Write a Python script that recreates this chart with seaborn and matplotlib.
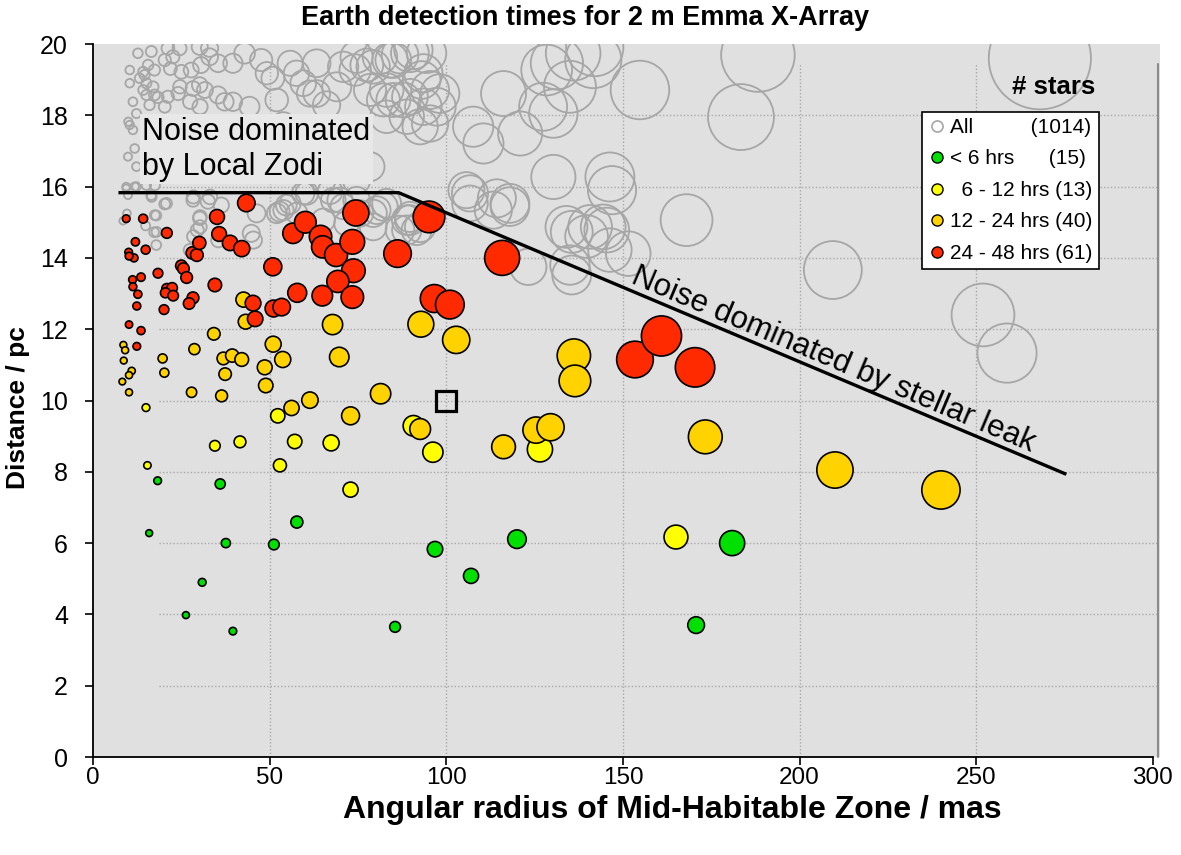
import numpy as np
import pandas as pd
import matplotlib
matplotlib.use("Agg")
import matplotlib.pyplot as plt
from matplotlib.lines import Line2D
import seaborn as sns

# ---------------- data ----------------
green_x = [15.9, 18.3, 36.0, 26.3, 30.9, 37.6, 39.6, 51.2, 57.7, 85.5, 96.8, 107.0, 120.0, 170.7, 180.9]
green_y = [6.28, 7.75, 7.66, 3.98, 4.90, 6.00, 3.53, 5.96, 6.59, 3.65, 5.83, 5.08, 6.11, 3.70, 6.00]

yellow_x = [15.0, 15.4, 34.5, 41.6, 52.3, 52.9, 57.1, 67.4, 72.9, 90.7, 96.2, 126.5, 165.0]
yellow_y = [9.80, 8.18, 8.73, 8.84, 9.57, 8.18, 8.85, 8.81, 7.50, 9.29, 8.55, 8.63, 6.17]

orange_x = [8.6, 9.1, 8.7, 10.95, 10.2, 8.3, 10.2, 19.7, 20.2, 28.7, 27.9, 34.2, 36.9, 39.4, 42.1,
            37.4, 36.4, 42.6, 43.2, 48.6, 48.9, 51.0, 53.7, 56.2, 61.4, 67.8, 69.7, 72.9, 81.4,
            92.8, 102.8, 92.6, 116.2, 125.4, 129.5, 136.1, 136.4, 173.3, 210.0, 240.0]
orange_y = [11.56, 11.41, 11.12, 10.83, 10.71, 10.53, 10.23, 11.18, 10.78, 11.44, 10.23, 11.87, 11.18,
            11.26, 11.15, 10.74, 10.13, 12.83, 12.21, 10.93, 10.42, 11.58, 11.15, 9.79, 10.01, 12.13,
            11.22, 9.57, 10.19, 12.14, 11.70, 9.20, 8.70, 9.17, 9.25, 11.26, 10.55, 8.98, 8.05, 7.49]

red_x = [9.4, 14.2, 20.9, 12.0, 14.9, 10.1, 11.6, 10.2, 18.4, 25.0, 25.6, 26.5, 13.6, 11.2, 11.3,
         12.7, 12.4, 20.9, 22.4, 20.5, 22.7, 20.1, 10.2, 13.6, 12.4, 28.3, 27.2, 28.1, 29.4, 30.1,
         34.5, 35.1, 35.7, 38.8, 42.1, 43.4, 50.9, 45.3, 45.9, 51.1, 53.4, 56.6, 60.1, 64.4, 65.0,
         68.8, 73.4, 74.4, 73.7, 69.3, 64.9, 73.4, 57.8, 86.2, 95.1, 96.6, 101.0, 115.8, 153.4,
         160.9, 170.4]
red_y = [15.10, 15.10, 14.70, 14.45, 14.23, 14.16, 14.00, 14.05, 13.57, 13.78, 13.70, 13.45, 13.46,
         13.39, 13.19, 12.98, 12.65, 13.14, 13.16, 13.02, 12.94, 12.55, 12.13, 11.96, 11.52, 12.88,
         12.72, 14.14, 14.08, 14.42, 13.24, 15.15, 14.67, 14.42, 14.26, 15.54, 13.75, 12.73, 12.29,
         12.58, 12.62, 14.69, 15.00, 14.60, 14.31, 14.08, 14.45, 15.26, 13.64, 13.34, 12.94, 12.90,
         13.02, 14.12, 15.15, 12.86, 12.69, 14.00, 11.15, 11.81, 10.93]

gray_x = [12.7, 16.5, 21.2, 24.5, 22.6, 20.3, 21.9, 10.4, 14.2, 17.4, 15.6, 14.6, 13.2, 25.0, 27.8,
          30.6, 33.0, 33.0, 30.2, 35.4, 39.6, 42.9, 47.6, 50.9, 10.4, 15.1, 17.0, 14.2, 17.4, 18.4,
          21.2, 24.1, 15.1, 11.3, 12.3, 16.0, 20.3, 30.2, 28.3, 35.4, 39.6, 44.3, 37.3, 10.4, 11.3,
          11.8, 9.9, 12.3, 9.4, 12.3, 15.1, 10.0, 24.6, 27.5, 30.3, 31.7, 16.6, 20.8, 17.5, 18.0,
          28.4, 33.1, 30.3, 30.3, 28.4, 35.5, 46.3, 45.4, 36.9, 42.6, 46.3, 50.1, 53.9, 55.8, 52.0,
          49.2, 55.8, 63.3, 59.5, 63.3, 69.0, 70.8, 74.6, 79.3, 84.1, 89.7, 93.5, 82.2, 87.8, 93.5,
          92.6, 97.3, 88.8, 95.4, 78.4, 74.6, 65.2, 59.5, 55.8, 52.0, 57.7, 65.2, 70.8, 75.6, 89.7,
          79.3, 57.6, 61.4, 66.1, 78.4, 83.1, 83.1, 95.4, 98.2, 85.0, 89.7, 93.0, 77.5, 74.2, 81.2,
          85.0, 86.9, 90.7, 94.4, 116.2, 107.6, 110.5, 120.9, 127.4, 128.4, 131.3, 130.3, 135.0,
          135.9, 141.6, 130.3, 146.3, 106.7, 114.3, 118.0, 134.0, 140.7, 144.4, 68.0, 74.6, 80.3,
          88.8, 82.2, 89.7, 86.9, 91.6, 106.7, 113.3, 118.0, 123.2, 135.5, 139.7, 145.4, 151.5,
          135.0, 135.5, 168.0, 268.0, 188.2, 183.4, 154.8, 142.0, 209.4, 251.9, 258.7, 146.9, 146.3,
          9.4, 11.8, 17.5, 9.9, 16.5, 20.3, 28.3, 32.5, 36.3, 17.9, 9.6, 8.5, 14.9, 17.3, 17.9,
          30.2, 29.5, 27.4, 44.8, 52.8, 54.7, 53.9, 60.5, 67.1, 69.9, 79.3, 83.1, 88.8, 92.6,
          105.7, 71.8]
gray_y = [19.74, 19.79, 19.88, 19.88, 19.64, 19.55, 19.31, 19.27, 19.22, 19.27, 19.41, 19.13, 19.04,
          19.22, 19.27, 19.41, 19.64, 19.88, 19.92, 19.46, 19.46, 19.74, 19.55, 19.04, 18.90, 18.90,
          18.80, 18.71, 18.57, 18.50, 18.52, 18.61, 18.57, 18.38, 18.05, 18.29, 18.24, 18.85, 18.75,
          18.57, 18.38, 18.24, 18.38, 17.73, 17.59, 17.07, 16.84, 16.56, 16.00, 16.00, 16.04, 17.82,
          18.80, 18.38, 18.24, 18.71, 15.71, 15.53, 15.20, 14.73, 15.71, 15.71, 15.15, 14.87, 14.60,
          14.50, 15.25, 14.50, 17.40, 17.31, 16.84, 17.31, 17.77, 17.49, 18.43, 19.18, 19.46, 19.46,
          18.90, 18.61, 18.80, 19.36, 19.64, 19.36, 19.55, 19.74, 19.18, 18.43, 18.43, 18.24, 17.68,
          18.24, 17.96, 18.71, 16.56, 16.18, 16.18, 15.81, 15.53, 15.25, 15.25, 15.06, 15.44, 15.25,
          15.06, 14.87, 19.18, 18.61, 18.29, 18.71, 18.71, 17.96, 17.77, 18.61, 18.43, 18.52, 18.99,
          19.41, 19.27, 19.64, 19.55, 19.69, 19.83, 19.74, 18.61, 17.68, 17.21, 17.49, 18.24, 19.27,
          19.46, 18.05, 18.80, 19.74, 19.55, 16.27, 16.27, 15.81, 15.67, 15.53, 14.87, 14.87, 14.87,
          15.62, 15.62, 15.34, 15.06, 15.44, 15.15, 14.78, 14.78, 15.53, 15.34, 15.44, 13.75, 14.73,
          14.60, 14.78, 14.12, 13.80, 13.52, 15.06, 19.60, 19.69, 17.95, 18.71, 19.90, 13.66, 12.40,
          11.33, 15.90, 14.22, 15.95, 16.00, 16.04, 15.76, 15.76, 15.51, 15.62, 15.58, 15.48, 15.19,
          15.25, 15.04, 14.90, 14.72, 14.36, 15.11, 14.78, 14.22, 14.69, 15.30, 15.48, 15.34, 15.81,
          15.86, 15.62, 15.25, 15.53, 14.78, 14.87, 15.90, 14.97]

categories = ["< 6 hrs", "6 - 12 hrs", "12 - 24 hrs", "24 - 48 hrs"]
counts = {"All": 1014, "< 6 hrs": 15, "6 - 12 hrs": 13, "12 - 24 hrs": 40, "24 - 48 hrs": 61}
colors = {"< 6 hrs": "#00e000", "6 - 12 hrs": "#ffff00", "12 - 24 hrs": "#ffd200", "24 - 48 hrs": "#ff2a00"}

# limit line of the noise regimes (x in mas, y in pc)
limit_x = [7.2, 86.5, 275.5]
limit_y = [15.83, 15.83, 7.93]

frames = []
for cat, xs, ys in zip(categories, [green_x, yellow_x, orange_x, red_x], [green_y, yellow_y, orange_y, red_y]):
    frames.append(pd.DataFrame({"x": xs, "y": ys, "cat": cat}))
df = pd.concat(frames, ignore_index=True)
gray = pd.DataFrame({"x": gray_x, "y": gray_y})

# physical habitable zone radius (AU) = angular radius (mas) * distance (pc) / 1000
def marker_area(xs, ys):
    r_au = np.asarray(xs) * np.asarray(ys) / 1000.0
    diam_px = 5.0 + 18.5 * r_au
    return (diam_px * 0.72) ** 2

# ---------------- figure ----------------
sns.set_theme(style="white")
plt.rcParams["font.family"] = ["Liberation Sans", "DejaVu Sans"]
plt.rcParams["text.color"] = "black"
plt.rcParams["axes.labelcolor"] = "black"

fig = plt.figure(figsize=(11.81, 8.55), dpi=100)
ax = fig.add_axes([93 / 1181, 98 / 855, 1067 / 1181, 713 / 855])
ax.set_facecolor("#e0e0e0")
ax.set_xlim(0, 302)
ax.set_ylim(0, 20)

# grid (dotted)
for gx in [50, 100, 150, 200, 250]:
    ax.plot([gx, gx], [0, 19.43], ls=(0, (1, 1.5)), color="#a8a8a8", lw=1.0, zorder=0.5)
for gy in range(2, 20, 2):
    ax.plot([18.7, 301.4], [gy, gy], ls=(0, (1, 1.5)), color="#a8a8a8", lw=1.0, zorder=0.5)
ax.plot([301.4, 301.4], [0, 19.43], color="#8c8c8c", lw=1.5, zorder=0.6, clip_on=False)

# all stars (grey open circles)
sns.scatterplot(data=gray, x="x", y="y", ax=ax, s=marker_area(gray.x, gray.y),
                facecolor="none", edgecolor="#a6a6a6", linewidth=1.3, legend=False, zorder=1)

# detection time categories
sns.scatterplot(data=df, x="x", y="y", hue="cat", hue_order=categories, palette=colors, ax=ax,
                s=marker_area(df.x, df.y), edgecolor="black", linewidth=1.2, alpha=1,
                legend=False, zorder=3)

# noise regime boundary
ax.plot(limit_x, limit_y, color="black", lw=2.4, solid_capstyle="butt", zorder=4)

# reference Earth-Sun at 10 pc
ax.plot([100], [10], marker="s", ms=14, mfc="none", mec="black", mew=2.3, zorder=5)

ax.text(14.0, 17.95, "Noise dominated\nby Local Zodi", fontsize=22, ha="left", va="top",
        linespacing=1.2, zorder=6,
        bbox=dict(facecolor="#e8e8e8", edgecolor="none", pad=2))
ax.text(209.5, 11.15, "Noise dominated by stellar leak", fontsize=22.5, ha="center", va="center",
        rotation=-22.9, rotation_mode="anchor", zorder=6)

ax.text(0.939, 0.94, "# stars", transform=ax.transAxes, fontsize=18.5, fontweight="bold",
        ha="right", va="center")

# legend
handles = [Line2D([], [], ls="", marker="o", ms=8, mfc="white", mec="#a6a6a6", mew=1.2)]
labels = ["All" + " " * 10 + "(%d)" % counts["All"]]
pads = {"< 6 hrs": (0, 6), "6 - 12 hrs": (2, 1), "12 - 24 hrs": (0, 1), "24 - 48 hrs": (0, 1)}
for cat in categories:
    handles.append(Line2D([], [], ls="", marker="o", ms=8, mfc=colors[cat], mec="black", mew=1.0))
    lead, gap = pads[cat]
    labels.append(" " * lead + cat + " " * gap + "(%d)" % counts[cat])
leg = ax.legend(handles, labels, loc="upper left", bbox_to_anchor=(0.777, 0.905),
                frameon=True, fancybox=False, fontsize=15, borderpad=0.3, labelspacing=0.6,
                handlelength=0.8, handletextpad=0.25, borderaxespad=0)
leg.get_frame().set_edgecolor("black")
leg.get_frame().set_linewidth(1.2)
leg.get_frame().set_facecolor("white")
leg.get_frame().set_alpha(1)
leg.set_zorder(10)

# axes styling
for side in ["top", "right"]:
    ax.spines[side].set_visible(False)
for side in ["left", "bottom"]:
    ax.spines[side].set_color("black")
    ax.spines[side].set_linewidth(1.3)
ax.spines["bottom"].set_bounds(0, 300)
ax.set_xticks(np.arange(0, 301, 50))
ax.set_yticks(np.arange(0, 21, 2))
ax.tick_params(axis="x", direction="out", length=6, width=1.2, color="black",
               labelsize=17.5, labelcolor="black", bottom=True, pad=1.5)
ax.tick_params(axis="y", direction="out", length=6, width=1.2, color="black",
               labelsize=18, labelcolor="black", left=True, pad=12)
ax.set_xlabel("Angular radius of Mid-Habitable Zone / mas", fontsize=23, fontweight="bold")
ax.xaxis.set_label_coords((672 - 93) / 1067, (757 - 810) / 713)
ax.xaxis.label.set_va("center")
ax.set_ylabel("Distance / pc", fontsize=19, fontweight="bold")
ax.yaxis.set_label_coords((18 - 93) / 1067, (757 - 408) / 713)
ax.yaxis.label.set_va("center")
fig.text(585 / 1181, 1 - 18 / 855, "Earth detection times for 2 m Emma X-Array", fontsize=19.5,
         fontweight="bold", ha="center", va="center")

fig.savefig("out.png", dpi=100, facecolor="white")
